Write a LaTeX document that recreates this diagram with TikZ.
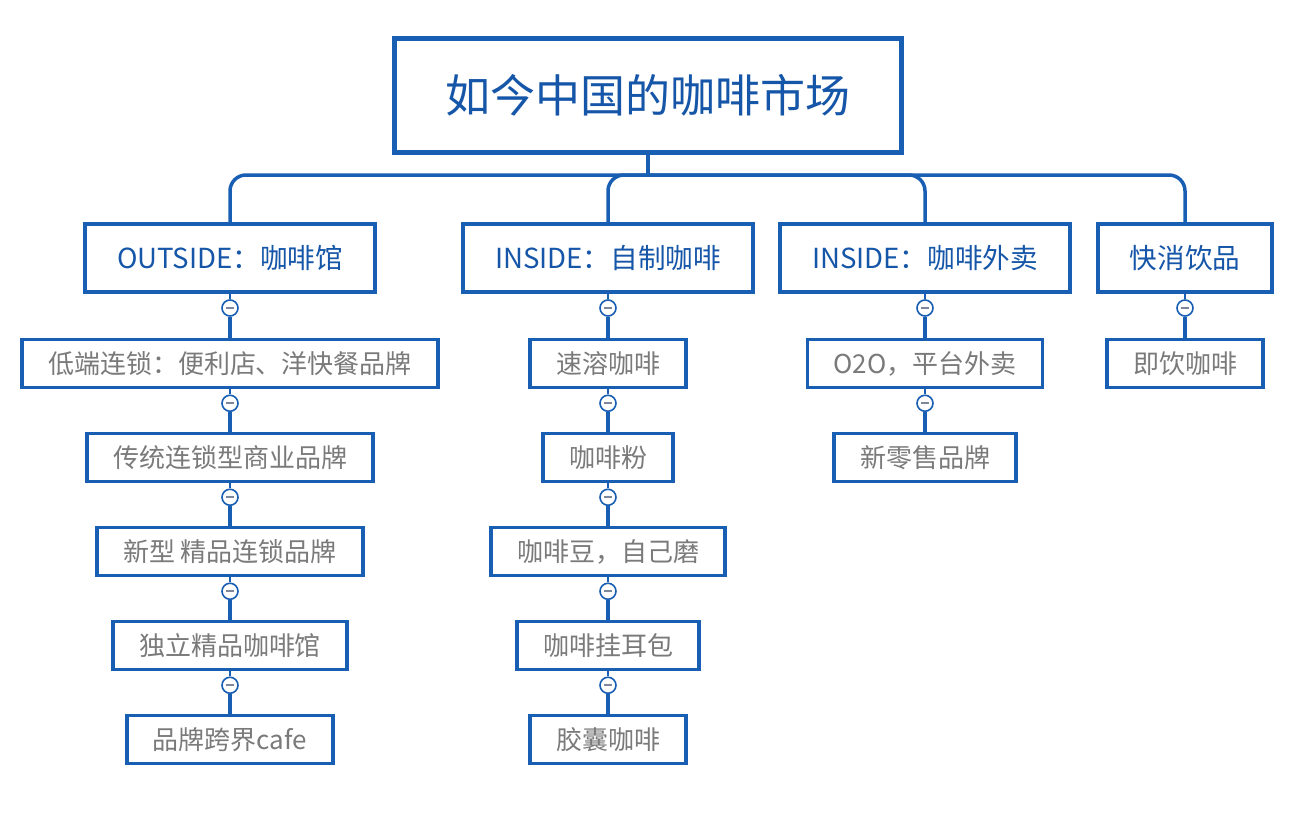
\documentclass[tikz,border=0pt]{standalone}
\usepackage{fontspec}
\setmainfont{Noto Sans CJK SC}
\usepackage{xcolor}
\usetikzlibrary{calc,positioning}
\definecolor{MindBlue}{RGB}{24,94,178}
\definecolor{TopicBlue}{RGB}{22,86,168}
\definecolor{LeafGray}{RGB}{122,122,122}
\definecolor{FoldGray}{RGB}{125,135,155}
\tikzset{
	root topic/.style={draw=MindBlue, line width=2.5pt, fill=white, text=TopicBlue, font=\fontsize{22.5}{27}\selectfont, inner xsep=25.5pt, minimum height=57pt},
	main topic/.style={draw=MindBlue, line width=2pt, fill=white, text=TopicBlue, font=\fontsize{13.8}{16}\selectfont, inner xsep=16pt, minimum height=34pt},
	sub topic/.style={draw=MindBlue, line width=1.75pt, fill=white, text=LeafGray, font=\fontsize{13}{15}\selectfont, inner xsep=13pt, minimum height=24pt},
	link/.style={draw=MindBlue, line width=1.75pt},
	thin link/.style={draw=MindBlue, line width=1pt},
	fold/.style={circle, draw=MindBlue, fill=white, line width=0.8pt, minimum size=8pt, inner sep=0pt,
		path picture={\draw[FoldGray, line width=0.8pt] ([xshift=-2pt]path picture bounding box.center) -- ([xshift=2pt]path picture bounding box.center);}}
}
\newcommand{\foldlink}[2]{
	\node[fold] (f#2) at ($ (#1.south) + (0,14) $) {};
	\draw[thin link] (#1) -- (f#2);
	\draw[link] (f#2) -- (#2);
}

\begin{document}
\begin{tikzpicture}[x=0.5pt, y=-0.5pt]
	\useasboundingbox (0,0) rectangle (1302,814);
%
	\node[root topic] (root) at (648,95.5) {如今中国的咖啡市场};
%
	%main topics
	\node[main topic] (A) at (230,258) {OUTSIDE：咖啡馆};
	\node[main topic] (B) at (608,258) {INSIDE：自制咖啡};
	\node[main topic] (C) at (925,258) {INSIDE：咖啡外卖};
	\node[main topic] (D) at (1185,258) {快消饮品};
%
	%sub topics
	\node[sub topic] (A1) at (230,363.5) {低端连锁：便利店、洋快餐品牌};
	\node[sub topic] (A2) at (230,457.5) {传统连锁型商业品牌};
	\node[sub topic] (A3) at (230,551.5) {新型 精品连锁品牌};
	\node[sub topic] (A4) at (230,645.5) {独立精品咖啡馆};
	\node[sub topic] (A5) at (230,739.5) {品牌跨界cafe};
	\node[sub topic] (B1) at (608,363.5) {速溶咖啡};
	\node[sub topic] (B2) at (608,457.5) {咖啡粉};
	\node[sub topic] (B3) at (608,551.5) {咖啡豆，自己磨};
	\node[sub topic] (B4) at (608,645.5) {咖啡挂耳包};
	\node[sub topic] (B5) at (608,739.5) {胶囊咖啡};
	\node[sub topic] (C1) at (925,363.5) {O2O，平台外卖};
	\node[sub topic] (C2) at (925,457.5) {新零售品牌};
	\node[sub topic] (D1) at (1185,363.5) {即饮咖啡};
%
	%root to main topics
	\coordinate (bus) at ($ (root.south) + (0,20) $);
	\draw[link] (root.south) -- (bus);
	\foreach \m in {A,B,C,D}
		\draw[link, rounded corners=8pt] (bus) -| (\m.north);
%
	%chains
	\foreach \p/\c in {A/A1,A1/A2,A2/A3,A3/A4,A4/A5,B/B1,B1/B2,B2/B3,B3/B4,B4/B5,C/C1,C1/C2,D/D1}
		{\foldlink{\p}{\c}}
\end{tikzpicture}
\end{document}
